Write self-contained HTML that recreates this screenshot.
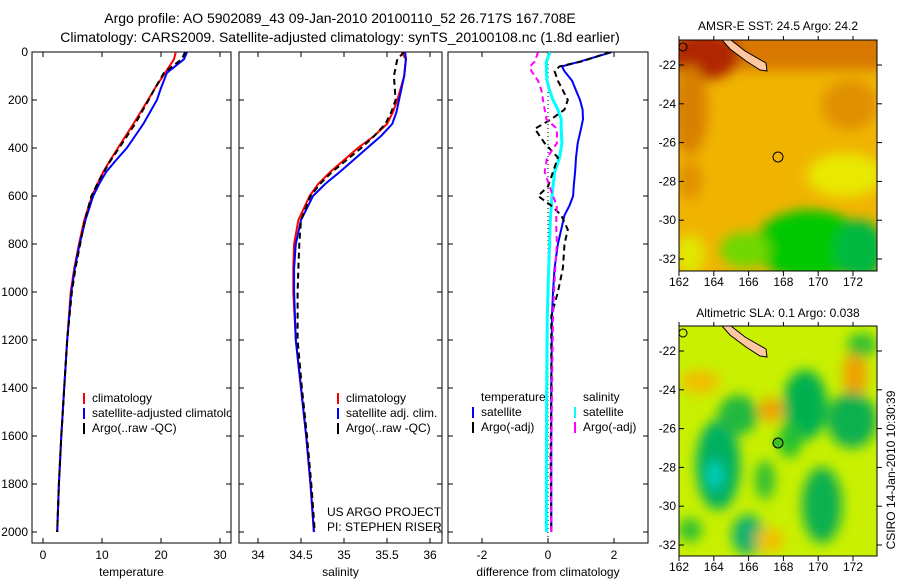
<!DOCTYPE html>
<html><head><meta charset="utf-8"><style>
body{margin:0;background:#fff;}
svg text{font-family:"Liberation Sans",sans-serif;fill:#000;}
</style></head><body>
<svg id="fig" width="900" height="580" viewBox="0 0 900 580" xmlns="http://www.w3.org/2000/svg">
<defs>
<filter id="blur1" x="-50%" y="-50%" width="200%" height="200%"><feGaussianBlur stdDeviation="6"/></filter>
<clipPath id="clipTop"><rect x="679" y="40" width="198" height="231"/></clipPath>
<clipPath id="clipBot"><rect x="679" y="326" width="198" height="230"/></clipPath>
<clipPath id="clipP1"><rect x="32" y="52" width="199" height="491"/></clipPath>
<clipPath id="clipP2"><rect x="239" y="52" width="203" height="491"/></clipPath>
<clipPath id="clipP3"><rect x="448" y="52" width="200" height="491"/></clipPath>
</defs>
<text x="340" y="23" font-size="14" text-anchor="middle">Argo profile: AO 5902089_43 09-Jan-2010 20100110_52 26.717S 167.708E</text>
<text x="340" y="42" font-size="14" text-anchor="middle">Climatology: CARS2009. Satellite-adjusted climatology: synTS_20100108.nc (1.8d earlier)</text>
<g id="plots"></g>

<!-- Top map -->
<text x="778" y="30" font-size="12" text-anchor="middle">AMSR-E SST: 24.5 Argo: 24.2</text>
<g clip-path="url(#clipTop)">
<rect x="679" y="40" width="198" height="231" fill="#f0b400"/>
<g filter="url(#blur1)">
<rect x="670" y="30" width="220" height="40" fill="#d87800"/>
<ellipse cx="705" cy="55" rx="35" ry="25" fill="#b02800"/>
<ellipse cx="690" cy="110" rx="18" ry="45" fill="#d88000"/>
<ellipse cx="850" cy="105" rx="28" ry="25" fill="#e09000"/>
<ellipse cx="845" cy="175" rx="38" ry="22" fill="#e8e800"/>
<ellipse cx="690" cy="180" rx="12" ry="20" fill="#e09000"/>
<ellipse cx="810" cy="245" rx="55" ry="35" fill="#00c800"/>
<ellipse cx="860" cy="250" rx="25" ry="30" fill="#00b840"/>
<ellipse cx="745" cy="250" rx="25" ry="18" fill="#70d800"/>
<ellipse cx="690" cy="255" rx="15" ry="20" fill="#e0e800"/>
</g>
<polygon points="722,40 731,40 745,51 766,63 767,71 760,70 746,61 730,49" fill="#ffc8a0" stroke="#000" stroke-width="1"/>
<circle cx="778" cy="157" r="5" fill="none" stroke="#000"/>
<circle cx="683" cy="47" r="4" fill="none" stroke="#000"/>
</g>
<rect x="679" y="40" width="198" height="231" fill="none" stroke="#000"/>
<g id="mapTopTicks"></g>

<!-- Bottom map -->
<text x="778" y="317" font-size="12" text-anchor="middle">Altimetric SLA: 0.1 Argo: 0.038</text>
<g clip-path="url(#clipBot)">
<rect x="679" y="326" width="198" height="230" fill="#c8f000"/>
<g filter="url(#blur1)">
<ellipse cx="805" cy="405" rx="22" ry="35" fill="#00b050"/>
<ellipse cx="790" cy="440" rx="12" ry="18" fill="#20c030"/>
<ellipse cx="855" cy="375" rx="12" ry="25" fill="#f0a000"/>
<ellipse cx="771" cy="410" rx="12" ry="12" fill="#f0a000"/>
<ellipse cx="718" cy="465" rx="22" ry="45" fill="#00b060"/>
<ellipse cx="715" cy="475" rx="8" ry="14" fill="#00d0c0"/>
<ellipse cx="738" cy="415" rx="20" ry="20" fill="#20b840"/>
<ellipse cx="852" cy="420" rx="25" ry="28" fill="#10b050"/>
<ellipse cx="822" cy="505" rx="20" ry="38" fill="#10b050"/>
<ellipse cx="748" cy="535" rx="16" ry="20" fill="#10b070"/>
<ellipse cx="700" cy="382" rx="20" ry="12" fill="#f0c000"/>
<ellipse cx="770" cy="540" rx="15" ry="12" fill="#f0c000"/>
<ellipse cx="862" cy="345" rx="15" ry="12" fill="#30c030"/>
<ellipse cx="690" cy="530" rx="12" ry="12" fill="#30c030"/>
<ellipse cx="765" cy="480" rx="10" ry="20" fill="#30c030"/>
</g>
<polygon points="722,326 731,326 745,337 766,349 767,357 760,356 746,347 730,335" fill="#ffc8a0" stroke="#000" stroke-width="1"/>
<circle cx="778" cy="443" r="5" fill="#40c020" stroke="#000"/>
<circle cx="683" cy="333" r="4" fill="none" stroke="#000"/>
</g>
<rect x="679" y="326" width="198" height="230" fill="none" stroke="#000"/>
<g id="mapBotTicks"></g>
<text transform="translate(895,470) rotate(-90)" font-size="12" text-anchor="middle">CSIRO 14-Jan-2010 10:30:39</text>
</svg>
<script>
// ---- data ----
const depthTicks=[0,200,400,600,800,1000,1200,1400,1600,1800,2000];
const tempTicks=[0,10,20,30];
const salTicks=[34,34.5,35,35.5,36];
const diffTicks=[-2,0,2];
const tempDepths=[0,30,87,150,200,300,400,450,500,550,600,700,800,900,1000,1200,1400,1600,1800,2000];
const tempClim=[22.5,22.2,20.7,19.0,17.8,15.3,12.7,11.4,10.2,9.2,8.3,7.0,6.1,5.3,4.7,4.1,3.6,3.1,2.7,2.4];
const tempSat=[24.4,23.9,21.0,20.0,19.3,17.0,14.2,12.4,10.7,9.5,8.5,7.2,6.2,5.4,4.8,4.1,3.6,3.1,2.7,2.4];
const tempArgo=[24.1,23.5,20.5,19.0,17.9,15.6,12.9,11.5,10.3,9.2,8.2,7.1,6.3,5.5,4.9,4.1,3.6,3.1,2.7,2.4];
const salDepths=[0,30,100,200,250,300,350,400,450,500,550,600,700,800,900,1000,1200,1400,1600,1800,2000];
const salClim=[35.67,35.72,35.70,35.62,35.57,35.50,35.35,35.16,35.00,34.84,34.70,34.60,34.47,34.42,34.41,34.41,34.44,34.50,34.56,34.61,34.65];
const salSat=[35.71,35.72,35.70,35.64,35.61,35.56,35.43,35.27,35.11,34.95,34.78,34.64,34.50,34.44,34.42,34.42,34.44,34.50,34.56,34.61,34.65];
const salArgo=[35.70,35.62,35.58,35.60,35.55,35.48,35.35,35.20,35.03,34.86,34.72,34.61,34.50,34.48,34.47,34.46,34.46,34.51,34.57,34.62,34.66];
const diffDepths=[0,40,60,80,120,160,200,240,280,320,380,440,500,560,600,640,680,740,800,900,1000,1100,1400,1700,2000];
const dTempSat=[1.94,0.97,0.42,0.5,0.73,0.85,0.97,1.05,1.06,1.0,0.9,0.85,0.82,0.78,0.76,0.65,0.5,0.4,0.3,0.2,0.15,0.12,0.1,0.1,0.1];
const dTempArgo=[1.9,1.0,0.35,0.2,0.3,0.45,0.6,0.5,0.1,-0.4,-0.1,0.3,0.15,0.0,-0.3,0.1,0.4,0.6,0.5,0.45,0.3,0.1,0.1,0.08,0.1];
const dSalSat=[0.06,-0.05,-0.05,-0.05,-0.03,0.05,0.15,0.3,0.4,0.4,0.42,0.35,0.2,0.15,0.12,0.1,0.08,0.06,0.05,0.02,0.0,-0.02,-0.04,-0.05,-0.05];
const dSalArgo=[-0.3,-0.4,-0.55,-0.5,-0.3,-0.2,-0.15,-0.1,-0.05,0.27,0.27,-0.03,-0.1,0.05,0.15,0.27,0.25,0.25,0.27,0.22,0.18,0.15,0.12,0.1,0.1];
const latTicks=[-22,-24,-26,-28,-30,-32];
const lonTicks=[162,164,166,168,170,172];
// ---- scales ----
const yD=d=>52+d*0.24;
const xT=t=>43+t*5.9;
const xS=s=>258+(s-34)*86;
const xDf=v=>548+v*33;
const NS="http://www.w3.org/2000/svg";
const root=document.getElementById('plots');
function mk(tag,attrs,parent){const e=document.createElementNS(NS,tag);for(const k in attrs)e.setAttribute(k,attrs[k]);(parent||root).appendChild(e);return e;}
function txt(s,x,y,anchor,parent){const t=mk('text',{x:x,y:y,'font-size':12,'text-anchor':anchor||'start'},parent);t.textContent=s;return t;}
function line(depths,vals,xf,color,w,dash,clip,name){
  const pts=depths.map((d,i)=>xf(vals[i]).toFixed(1)+','+yD(d).toFixed(1)).join(' ');
  const p=mk('polyline',{points:pts,fill:'none',stroke:color,'stroke-width':w,'clip-path':'url(#'+clip+')'});
  if(dash)p.setAttribute('stroke-dasharray',dash);
  
  
}
function panel(x0,x1,ticks,xf,label,name,clip,showY){
  const g=mk('g',{});
  
  
  mk('rect',{x:x0,y:52,width:x1-x0,height:491,fill:'none',stroke:'#000'},g);
  ticks.forEach(t=>{const x=xf(t);mk('line',{x1:x,x2:x,y1:543,y2:538,stroke:'#000'},g);mk('line',{x1:x,x2:x,y1:52,y2:57,stroke:'#000'},g);txt(String(t),x,559,'middle',g);});
  depthTicks.forEach(d=>{const y=yD(d);mk('line',{x1:x0,x2:x0+5,y1:y,y2:y,stroke:'#000'},g);mk('line',{x1:x1,x2:x1-5,y1:y,y2:y,stroke:'#000'},g);if(showY)txt(String(d),x0-4,y+4,'end',g);});
  const l=txt(label,(x0+x1)/2,576,'middle',g);
  
  
}
panel(32,231,tempTicks,xT,'temperature','temperature-panel','clipP1',true);
panel(239,442,salTicks,xS,'salinity','salinity-panel','clipP2',false);
panel(448,648,diffTicks,xDf,'difference from climatology','difference-panel','clipP3',false);
mk('line',{x1:xDf(0),x2:xDf(0),y1:52,y2:543,stroke:'#000','stroke-dasharray':'1,3'});
line(tempDepths,tempClim,xT,'#f00',2,null,'clipP1','temp-climatology-line');
line(tempDepths,tempSat,xT,'#00f',2,null,'clipP1','temp-satellite-line');
line(tempDepths,tempArgo,xT,'#000',2,'6,4','clipP1','temp-argo-line');
line(salDepths,salClim,xS,'#f00',2,null,'clipP2','sal-climatology-line');
line(salDepths,salSat,xS,'#00f',2,null,'clipP2','sal-satellite-line');
line(salDepths,salArgo,xS,'#000',2,'6,4','clipP2','sal-argo-line');
line(diffDepths,dSalSat,xDf,'#0ff',3,null,'clipP3','diff-sal-satellite-line');
line(diffDepths,dTempSat,xDf,'#00f',2,null,'clipP3','diff-temp-satellite-line');
line(diffDepths,dTempArgo,xDf,'#000',2,'6,4','clipP3','diff-temp-argo-line');
line(diffDepths,dSalArgo,xDf,'#f0f',2,'6,4','clipP3','diff-sal-argo-line');
// legends
function legend(items,x,y,clip,name){
  const g=mk('g',{'clip-path':'url(#'+clip+')'});
  
  
  items.forEach((it,i)=>{const yy=y+i*15;mk('line',{x1:x,x2:x,y1:yy-9,y2:yy+2,stroke:it[1],'stroke-width':2},g);txt(it[0],x+8,yy,'start',g);});
}
legend([['climatology','#f00'],['satellite-adjusted climatology','#00f'],['Argo(..raw -QC)','#000']],84,402,'clipP1','temp-legend');
legend([['climatology','#f00'],['satellite adj. clim.','#00f'],['Argo(..raw -QC)','#000']],338,402,'clipP2','sal-legend');
txt('temperature',481,401,'start');
txt('salinity',583,401,'start');
legend([['satellite','#00f'],['Argo(-adj)','#000']],473,416,'clipP3','diff-temp-legend');
legend([['satellite','#0ff'],['Argo(-adj)','#f0f']],575,416,'clipP3','diff-sal-legend');
const c1=txt('US ARGO PROJECT',327,516,'start');
const c2=txt('PI: STEPHEN RISER',327,531,'start');
// map ticks
function mapTicks(gid,top,h){
  const g=document.getElementById(gid);
  
  
  const yl=l=>top+25+(-22-l)*19.4;
  const xl=l=>679+(l-162)*17.4;
  latTicks.forEach(l=>{const y=yl(l);mk('line',{x1:877,x2:882,y1:y,y2:y,stroke:'#000'},g);mk('line',{x1:679,x2:684,y1:y,y2:y,stroke:'#000'},g);txt(String(l),676,y+4,'end',g);});
  lonTicks.forEach(l=>{const x=xl(l);mk('line',{x1:x,x2:x,y1:top+h,y2:top+h+5,stroke:'#000'},g);mk('line',{x1:x,x2:x,y1:top,y2:top-4,stroke:'#000'},g);txt(String(l),x,top+h+15,'middle',g);});
}
mapTicks('mapTopTicks',40,231);
mapTicks('mapBotTicks',326,230);
</script>
</body></html>
